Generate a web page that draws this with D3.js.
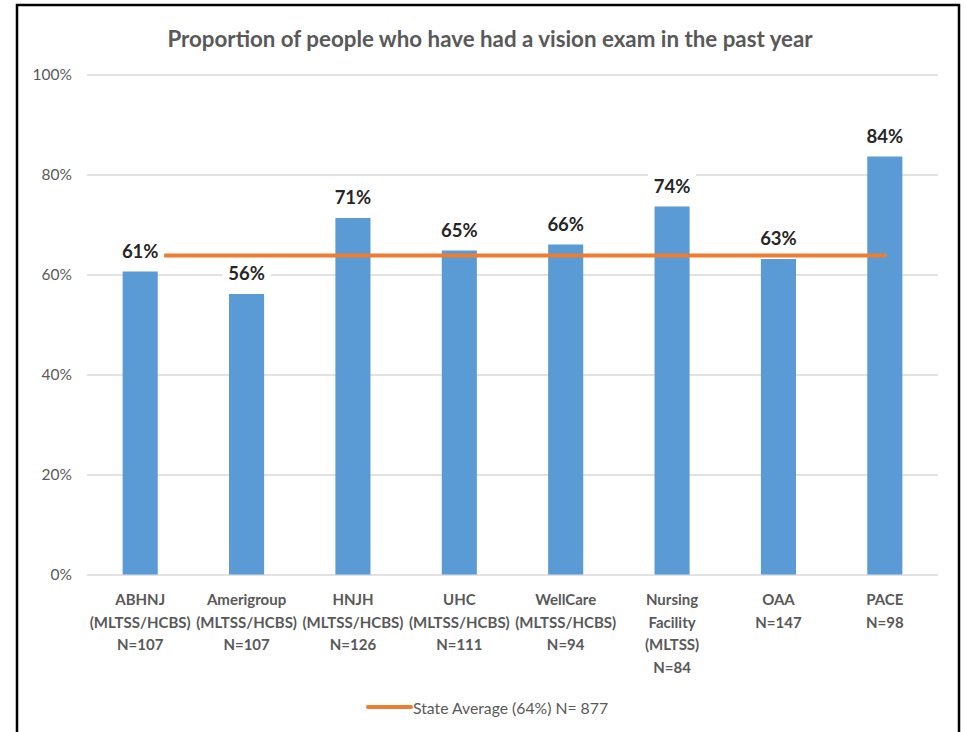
<!DOCTYPE html>
<html>
<head>
<meta charset="utf-8">
<script src="https://cdn.jsdelivr.net/npm/d3@7"></script>
<style>
  html, body { margin: 0; padding: 0; background: #fff; }
  svg { display: block; }
  text { font-family: Lato, "Open Sans", sans-serif; }
</style>
</head>
<body>
<svg id="chart" width="966" height="732"></svg>
<script>
const title = "Proportion of people who have had a vision exam in the past year";
const categories = ["ABHNJ", "Amerigroup", "HNJH", "UHC", "WellCare", "Nursing Facility", "OAA", "PACE"];
const categoryLines = [
  ["ABHNJ", "(MLTSS/HCBS)", "N=107"],
  ["Amerigroup", "(MLTSS/HCBS)", "N=107"],
  ["HNJH", "(MLTSS/HCBS)", "N=126"],
  ["UHC", "(MLTSS/HCBS)", "N=111"],
  ["WellCare", "(MLTSS/HCBS)", "N=94"],
  ["Nursing", "Facility", "(MLTSS)", "N=84"],
  ["OAA", "N=147"],
  ["PACE", "N=98"]
];
const values = [60.6, 56.1, 71.3, 64.8, 66.0, 73.6, 63.1, 83.6];
const valueLabels = ["61%", "56%", "71%", "65%", "66%", "74%", "63%", "84%"];
const stateAverage = 63.8;
const stateAverageLabel = "State Average (64%) N= 877";
const yTicks = [0, 20, 40, 60, 80, 100];

const svg = d3.select("#chart");
const plot = { left: 87, right: 938, top: 74.5, bottom: 574.5 };

const x = d3.scaleBand().domain(categories).range([plot.left, plot.right])
  .paddingInner(0.67).paddingOuter(0.335);
const y = d3.scaleLinear().domain([0, 100]).range([plot.bottom, plot.top]);

function fitWidth(sel, target) {
  const node = sel.node();
  let fs = parseFloat(sel.style("font-size"));
  for (let i = 0; i < 4; i++) {
    const w = node.getComputedTextLength();
    fs = fs * target / w;
    sel.style("font-size", fs + "px");
  }
}

// Outer border
svg.append("rect").attr("x", 17).attr("y", 5).attr("width", 942).attr("height", 800)
  .attr("fill", "none").attr("stroke", "#000").attr("stroke-width", 2.5);

// Title
const t = svg.append("text").attr("x", 490).attr("y", 38).attr("text-anchor", "middle")
  .attr("dominant-baseline", "central")
  .style("font-size", "22px").style("font-weight", "bold").attr("fill", "#595959").text(title);
fitWidth(t, 645);

// Gridlines & y axis labels
const yAxis = d3.axisLeft(y).tickValues(yTicks).tickSize(-(plot.right - plot.left))
  .tickFormat(d => d + "%").tickPadding(15);
const gy = svg.append("g").attr("transform", `translate(${plot.left},0)`).call(yAxis);
gy.select(".domain").remove();
gy.selectAll(".tick line").attr("stroke", "#D9D9D9").attr("stroke-width", 1.5);
gy.selectAll(".tick text").attr("fill", "#595959").style("font-size", "15.5px")
  .style("font-family", "Lato, sans-serif");

// Bars
svg.append("g").selectAll("rect").data(values).join("rect")
  .attr("x", (d, i) => x(categories[i]))
  .attr("y", d => y(d))
  .attr("width", x.bandwidth())
  .attr("height", d => y(0) - y(d))
  .attr("fill", "#5B9BD5");

// State average line
const lineGen = d3.line().x(d => x(d) + x.bandwidth() / 2).y(() => y(stateAverage));
svg.append("path").datum(categories).attr("d", lineGen)
  .attr("fill", "none").attr("stroke", "#ED7D31").attr("stroke-width", 4).attr("stroke-linecap", "round");

// Data labels with white backgrounds
const lbl = svg.append("g").selectAll("g").data(values).join("g")
  .attr("transform", (d, i) => `translate(${x(categories[i]) + x.bandwidth() / 2},${y(d) - 21})`);
lbl.append("rect").attr("x", -24).attr("y", -14).attr("width", 48).attr("height", 28).attr("fill", "#fff");
lbl.append("text").attr("text-anchor", "middle").attr("dominant-baseline", "central")
  .style("font-size", "18.5px").style("font-weight", "bold").attr("fill", "#262626")
  .text((d, i) => valueLabels[i]);

// X axis labels
const xl = svg.append("g").selectAll("text").data(categories).join("text")
  .attr("text-anchor", "middle")
  .attr("transform", d => `translate(${x(d) + x.bandwidth() / 2},0)`)
  .style("font-size", "15px").style("font-weight", "bold").attr("fill", "#595959");
xl.selectAll("tspan").data((d, i) => categoryLines[i]).join("tspan")
  .attr("x", 0).attr("y", (d, j) => 599 + j * 22.6).attr("dominant-baseline", "central").text(d => d);

// Legend
svg.append("line").attr("x1", 368).attr("x2", 411).attr("y1", 707).attr("y2", 707)
  .attr("stroke", "#ED7D31").attr("stroke-width", 4).attr("stroke-linecap", "round");
const lt = svg.append("text").attr("x", 413).attr("y", 707).attr("dominant-baseline", "central")
  .style("font-size", "15px").attr("fill", "#595959").text(stateAverageLabel);
fitWidth(lt, 195);
</script>
</body>
</html>
